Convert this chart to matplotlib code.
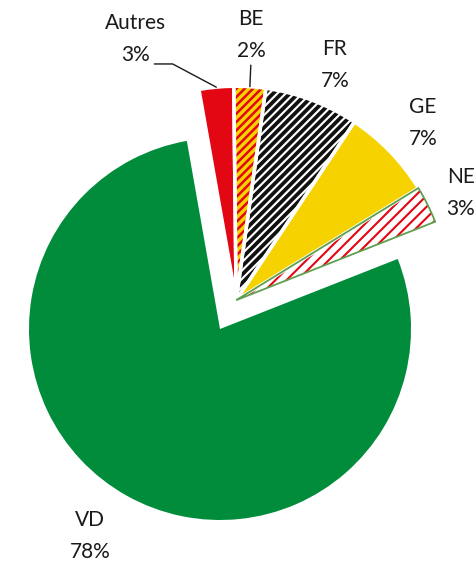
import numpy as np
import matplotlib.pyplot as plt

plt.rcParams['font.family'] = ['Lato', 'DejaVu Sans']
plt.rcParams['hatch.linewidth'] = 2.0

# ------------------------------------------------------------
# Data (clockwise, starting at the top); shares in %
# ------------------------------------------------------------
cantons = ['Autres', 'BE', 'FR', 'GE', 'NE', 'VD']
shares = [2.6, 2.4, 7.1, 6.9, 2.8, 78.2]

# styles
face_colors = ['#e30613', '#f6d300', 'white', '#f6d300', 'white', '#008c3a']
hatch_colors = ['#e30613', '#e30613', '#111111', '#f6d300', '#e30613', '#008c3a']
hatches = [None, '////', '////', None, '///', None]
hatch_widths = [1.0, 1.8, 2.7, 1.0, 1.5, 1.0]
border_colors = ['white', 'white', 'white', 'white', '#5f9f4f', 'none']
border_widths = [2.5, 2.5, 2.5, 2.5, 1.3, 0]

# label centres in pixels (x from left, y from top)
label_pos = [(136, 39), (251, 35), (335, 65), (423, 123), (461, 193), (90, 536)]

W, H = 477, 561
fig = plt.figure(figsize=(W / 100, H / 100), dpi=100)
ax = fig.add_axes([0, 0, 1, 1])

wedges, _ = ax.pie(shares, colors=face_colors, startangle=100, counterclock=False,
                   wedgeprops=dict(linewidth=0))
outlines, _ = ax.pie(shares, startangle=100, counterclock=False,
                     wedgeprops=dict(fill=False, linewidth=2.5, edgecolor='white'))

for w, h, hc, hw in zip(wedges, hatches, hatch_colors, hatch_widths):
    if h:
        w.set_hatch(h)
        w.set_edgecolor(hc)  # hatch colour follows the edge colour
        if hasattr(w, 'set_hatch_linewidth'):
            w.set_hatch_linewidth(hw)

for o, bc, bw in zip(outlines, border_colors, border_widths):
    o.set_edgecolor(bc)
    o.set_linewidth(bw)

# the small cantons are pulled out together, as one block
n_small = 5
t_top = wedges[0].theta2
t_bot = wedges[n_small - 1].theta1
mid = np.deg2rad((t_top + t_bot) / 2)
shift = 0.173 * np.array([np.cos(mid), np.sin(mid)])
for w in list(wedges[:n_small]) + list(outlines[:n_small]):
    w.set_center(tuple(shift))
    w.set_radius(1.12)

# axis so that 1 unit = 191 px and the big slice is centred at (220, 329)
px = 191.0
ax.set_aspect('auto')
ax.set_xlim(-220 / px, (W - 220) / px)
ax.set_ylim(-(H - 329) / px, 329 / px)
ax.axis('off')


def outer_point(w):
    a = np.deg2rad((w.theta1 + w.theta2) / 2)
    cx, cy = w.center
    return (cx + w.r * np.cos(a), cy + w.r * np.sin(a))


for i, (name, val) in enumerate(zip(cantons, shares)):
    x, y = label_pos[i]
    txt = f'{name}\n{round(val)}%'
    kw = dict(xytext=(x / W, 1 - y / H), textcoords='figure fraction',
              ha='center', va='center', fontsize=15, color='#1a1a1a',
              linespacing=1.75, multialignment='center')
    if name == 'Autres':
        ax.annotate(txt, xy=outer_point(wedges[i]), **kw,
                    arrowprops=dict(arrowstyle='-', color='#1a1a1a', lw=1,
                                    relpos=(0.8, 0.02), patchA=None,
                                    shrinkA=0, shrinkB=0,
                                    connectionstyle='angle,angleA=0,angleB=-28,rad=0'))
    elif name == 'BE':
        ax.annotate(txt, xy=outer_point(wedges[i]), **kw,
                    arrowprops=dict(arrowstyle='-', color='#1a1a1a', lw=1,
                                    relpos=(0.5, 0.0), patchA=None,
                                    shrinkA=3, shrinkB=0))
    else:
        ax.annotate(txt, xy=(0, 0), **kw)

fig.savefig('out.png', dpi=100, facecolor='white')
